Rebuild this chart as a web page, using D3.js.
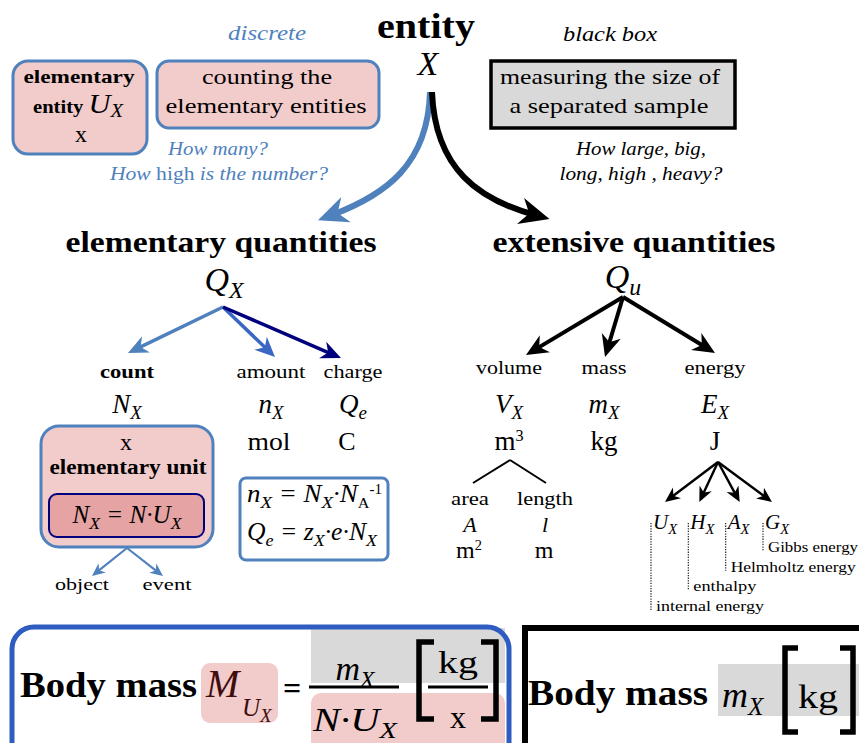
<!DOCTYPE html>
<html>
<head>
<meta charset="utf-8">
<script src="https://cdn.jsdelivr.net/npm/d3@7"></script>
<style>
  body { margin: 0; background: #fff; }
  svg { display: block; }
  text { font-family: "Liberation Serif", "Times New Roman", serif; white-space: pre; }
</style>
</head>
<body>
<script>
//Texts of the diagram
const topic = "entity";
const topicSymbol = "X";
const sideNotes = ["discrete", "black box"];
const countBox = ["counting the", "elementary entities"];
const measureBox = ["measuring the size of", "a separated sample"];
const countQuestions = ["How many?", "How high is the number?"];
const measureQuestions = ["How large, big,", "long, high , heavy?"];
const branches = ["elementary quantities", "extensive quantities"];

//Left branch: elementary quantities
const elemNames = ["count", "amount", "charge"];
const elemSymbols = [["N", "X"], ["n", "X"], ["Q", "e"]];
const elemUnits = ["x", "mol", "C"];
const unitKinds = ["object", "event"];

//Right branch: extensive quantities
const extNames = ["volume", "mass", "energy"];
const extSymbols = [["V", "X"], ["m", "X"], ["E", "X"]];
const extUnits = [["m", "3"], ["kg", ""], ["J", ""]];
const volNames = ["area", "length"];
const volSymbols = ["A", "l"];
const volUnits = [["m", "2"], ["m", ""]];
const energySymbols = ["U", "H", "A", "G"];
const energyNames = ["internal energy", "enthalpy", "Helmholtz energy", "Gibbs energy"];

//Colours
const blue = "#4f81bd", midBlue = "#3a67c4", navy = "#00007f", deepBlue = "#2f5cc0";
const pink = "#f2cbcb", darkPink = "#e6a3a3", grey = "#d9d9d9";

const width = 859, height = 743;

const svg = d3.select("body").append("svg")
  .attr("width", width)
  .attr("height", height)
  .attr("font-family", "Liberation Serif, serif");
const defs = svg.append("defs");

//Scales for the horizontal placement of the nodes
const xElem = d3.scaleOrdinal().domain(elemNames).range([127, 271, 353]);
const xExt = d3.scaleOrdinal().domain(extNames).range([509, 604, 715]);
const xVol = d3.scaleOrdinal().domain(volNames).range([470, 545]);
const xKind = d3.scaleOrdinal().domain(unitKinds).range([82, 167]);
const xEn = d3.scalePoint().domain(energySymbols).range([653, 765]);
const yEnName = d3.scalePoint().domain(energyNames).range([611, 552]);

//Text with italic / bold / sub / sup parts: [string, kind, fontSize]
function rich(g, x, y, parts, size, opts = {}) {
  const t = g.append("text")
    .attr("x", x).attr("y", y)
    .attr("text-anchor", opts.anchor || "middle")
    .style("font-size", size + "px")
    .style("fill", opts.color || "#000");
  let shift = 0;
  parts.forEach(([str, kind = "", fs]) => {
    if (!str) return;
    const sub = kind.includes("_"), sup = kind.includes("^");
    const want = sub ? size * 0.22 : sup ? -size * 0.32 : 0;
    const ts = t.append("tspan").attr("dy", want - shift).text(str);
    if (fs) ts.style("font-size", fs + "px");
    else if (sub) ts.style("font-size", size * 0.7 + "px");
    else if (sup) ts.style("font-size", size * 0.6 + "px");
    if (kind.includes("i")) ts.style("font-style", "italic");
    if (kind.includes("b")) ts.style("font-weight", "bold");
    shift = want;
  });
  if (opts.w) t.attr("textLength", opts.w).attr("lengthAdjust", "spacingAndGlyphs");
  return t;
}

//Arrow heads, one marker per colour and size
function marker(color, size) {
  const id = "m" + color.slice(1) + size;
  if (defs.select("#" + id).empty()) {
    defs.append("marker")
      .attr("id", id)
      .attr("viewBox", "0 0 10 10")
      .attr("refX", 5).attr("refY", 5)
      .attr("markerUnits", "userSpaceOnUse")
      .attr("markerWidth", size).attr("markerHeight", size)
      .attr("orient", "auto")
      .append("path")
        .attr("d", "M0,0.5 L10,5 L0,9.5 L3,5 Z")
        .attr("fill", color);
  }
  return `url(#${id})`;
}

//Straight arrow that ends with its tip at (x2, y2)
function arrow(g, x1, y1, x2, y2, color, sw, size) {
  const len = Math.hypot(x2 - x1, y2 - y1);
  const k = (len - size * 0.5) / len;
  g.append("line")
    .attr("x1", x1).attr("y1", y1)
    .attr("x2", x1 + (x2 - x1) * k).attr("y2", y1 + (y2 - y1) * k)
    .attr("stroke", color).attr("stroke-width", sw)
    .attr("marker-end", marker(color, size));
}

const g = svg.append("g");

//==== top part ====
rich(g, 426, 38, [[topic, "b"]], 35, { w: 98 });
rich(g, 428, 75, [[topicSymbol, "i"]], 34);
rich(g, 267, 40, [[sideNotes[0], "i"]], 22, { color: blue, w: 78 });
rich(g, 610, 41, [[sideNotes[1], "i"]], 22, { w: 94 });

//boxes
g.append("rect").attr("x", 13).attr("y", 61).attr("width", 134).attr("height", 93)
  .attr("rx", 15).attr("fill", pink).attr("stroke", blue).attr("stroke-width", 3);
rich(g, 79, 83, [["elementary", "b"]], 19, { w: 111 });
rich(g, 78, 113, [["entity ", "b", 19], ["U", "i", 28], ["X", "i_", 19]], 19, { w: 90 });
rich(g, 81, 142, [["x"]], 24);

g.append("rect").attr("x", 157).attr("y", 61).attr("width", 222).attr("height", 67)
  .attr("rx", 12).attr("fill", pink).attr("stroke", blue).attr("stroke-width", 3);
rich(g, 267, 84, [[countBox[0]]], 22, { w: 130 });
rich(g, 266, 113, [[countBox[1]]], 22, { w: 201 });

g.append("rect").attr("x", 491).attr("y", 61).attr("width", 244).attr("height", 67)
  .attr("fill", grey).attr("stroke", "#000").attr("stroke-width", 3.5);
rich(g, 610, 84, [[measureBox[0]]], 22, { w: 220 });
rich(g, 609, 113, [[measureBox[1]]], 22, { w: 199 });

rich(g, 218, 155, [[countQuestions[0], "i"]], 19, { color: blue, w: 100 });
rich(g, 219, 180, [["How ", "i"], ["high"], [countQuestions[1].slice(8), "i"]], 19, { color: blue, w: 218 });
rich(g, 641, 155, [[measureQuestions[0], "i"]], 19, { w: 130 });
rich(g, 641, 180, [[measureQuestions[1], "i"]], 19, { w: 163 });

//curved arrows from the entity
g.append("path").attr("d", "M430,92 C428,165 385,195 332,215")
  .attr("fill", "none").attr("stroke", blue).attr("stroke-width", 6)
  .attr("marker-end", marker(blue, 30));
g.append("path").attr("d", "M432,92 C435,170 480,200 535,215")
  .attr("fill", "none").attr("stroke", "#000").attr("stroke-width", 6)
  .attr("marker-end", marker("#000", 30));

//branch titles
rich(g, 221, 252, [[branches[0], "b"]], 29, { w: 311 });
rich(g, 634, 252, [[branches[1], "b"]], 29, { w: 283 });
rich(g, 224, 291, [["Q", "i"], ["X", "i_"]], 34);
rich(g, 623, 288, [["Q", "i"], ["u", "i_"]], 34);

//==== left tree ====
const elemColors = d3.scaleOrdinal().domain(elemNames).range([blue, midBlue, navy]);
const elemTips = d3.scaleOrdinal().domain(elemNames).range([128, 275, 341]);
const elemTipY = d3.scaleOrdinal().domain(elemNames).range([353, 357, 358]);
elemNames.forEach(n => arrow(g, 223, 307, elemTips(n), elemTipY(n), elemColors(n), 3.5, 20));

elemNames.forEach((n, i) => {
  rich(g, xElem(n), 378, [[n, i === 0 ? "b" : ""]], 19, { w: [54, 69, 59][i] });
  rich(g, xElem(n), 413, [[elemSymbols[i][0], "i"], [elemSymbols[i][1], "i_"]], 27);
});

//elementary unit box
g.append("rect").attr("x", 41).attr("y", 426).attr("width", 172).attr("height", 121)
  .attr("rx", 18).attr("fill", pink).attr("stroke", blue).attr("stroke-width", 3);
rich(g, 126, 450, [[elemUnits[0]]], 24);
rich(g, 128, 474, [["elementary unit", "b"]], 20, { w: 157 });
g.append("rect").attr("x", 49).attr("y", 494).attr("width", 155).attr("height", 43)
  .attr("rx", 8).attr("fill", darkPink).attr("stroke", navy).attr("stroke-width", 2);
rich(g, 127, 523, [["N", "i"], ["X", "i_"], [" = N·U", "i"], ["X", "i_"]], 25, { w: 109 });
rich(g, xElem(elemNames[1]) - 2, 450, [[elemUnits[1]]], 26, { w: 43 });
rich(g, xElem(elemNames[2]) - 6, 450, [[elemUnits[2]]], 26);

//object / event
unitKinds.forEach((k, i) => {
  arrow(g, 127, 548, xKind(k) + (i ? -4 : 10), 576, blue, 2.2, 13);
  rich(g, xKind(k), 590, [[k]], 17, { w: [54, 49][i] });
});

//formula box
g.append("rect").attr("x", 240).attr("y", 478).attr("width", 148).attr("height", 82)
  .attr("rx", 6).attr("fill", "#fff").attr("stroke", blue).attr("stroke-width", 3);
rich(g, 247, 502, [["n", "i"], ["X", "i_"], [" = N", "i"], ["X", "i_"], ["·N", "i"], ["A", "_", 15], ["-1", "^", 14]], 25, { anchor: "start", w: 135 });
rich(g, 247, 540, [["Q", "i"], ["e", "i_"], [" = z", "i"], ["X", "i_"], ["·e·N", "i"], ["X", "i_"]], 25, { anchor: "start", w: 130 });

//==== right tree ====
const extTips = d3.scaleOrdinal().domain(extNames).range([526, 605, 715]);
const extTipY = d3.scaleOrdinal().domain(extNames).range([355, 357, 353]);
extNames.forEach(n => arrow(g, 623, 297, extTips(n), extTipY(n), "#000", 4, 22));

extNames.forEach((n, i) => {
  rich(g, xExt(n), 374, [[n]], 19, { w: [66, 45, 61][i] });
  rich(g, xExt(n), 413, [[extSymbols[i][0], "i"], [extSymbols[i][1], "i_"]], 27);
  rich(g, xExt(n), 450, [[extUnits[i][0]], [extUnits[i][1], "^"]], 27);
});

//volume split
volNames.forEach((n, i) => {
  g.append("line").attr("x1", 510).attr("y1", 460).attr("x2", xVol(n) + (i ? 1 : 3)).attr("y2", 483)
    .attr("stroke", "#000").attr("stroke-width", 2);
  rich(g, xVol(n), 505, [[n]], 19, { w: [38, 56][i] });
  rich(g, xVol(n), 532, [[volSymbols[i], "i"]], 22);
  rich(g, xVol(n) - 1, 558, [[volUnits[i][0]], [volUnits[i][1], "^"]], 24);
});

//energy forms
energySymbols.forEach((s, i) => {
  const x = xEn(s);
  arrow(g, 718, 462, x + [12, 9, 12, 7][i], 502, "#000", 2.4, 15);
  rich(g, x, 529, [[s, "i"], ["X", "i_"]], 21, { anchor: "start" });
  const yName = yEnName(energyNames[i]);
  g.append("line").attr("x1", x - 2).attr("y1", 523).attr("x2", x - 2).attr("y2", yName - 1)
    .attr("stroke", "#222").attr("stroke-width", 1.2).attr("stroke-dasharray", "1.3,1.3");
  rich(g, x + 3, yName, [[energyNames[i]]], 15, { anchor: "start", w: [108, 63, 125, 90][i] });
});

//==== bottom formulas ====
//left: body mass as mass divided by number of elementary units
g.append("rect").attr("x", 311).attr("y", 628).attr("width", 194).attr("height", 55).attr("fill", grey);
g.append("rect").attr("x", 311).attr("y", 693).attr("width", 194).attr("height", 80).attr("rx", 10).attr("fill", pink);
g.append("rect").attr("x", 201).attr("y", 663).attr("width", 77).attr("height", 60).attr("rx", 9).attr("fill", pink);
g.append("rect").attr("x", 12).attr("y", 627).attr("width", 497).attr("height", 150)
  .attr("rx", 22).attr("fill", "none").attr("stroke", deepBlue).attr("stroke-width", 5);

rich(g, 20, 697, [["Body mass", "b"]], 35, { anchor: "start", w: 177 });
rich(g, 206, 697, [["M", "i"]], 40, { anchor: "start", color: "#3f0d0d" });
rich(g, 242, 716, [["U", "i"]], 25, { anchor: "start", color: "#3f0d0d" });
rich(g, 260, 722, [["X", "i"]], 19, { anchor: "start", color: "#3f0d0d" });
rich(g, 292, 699, [["=", "b"]], 32);
g.append("line").attr("x1", 309).attr("x2", 399).attr("y1", 687).attr("y2", 687)
  .attr("stroke", "#000").attr("stroke-width", 3);
rich(g, 355, 680, [["m", "i"], ["X", "i_"]], 34);
rich(g, 355, 731, [["N·U", "i"], ["X", "i_"]], 34, { w: 84 });
g.append("path").attr("d", "M434,642 H419 V719 H434 M481,642 H496 V719 H481")
  .attr("fill", "none").attr("stroke", "#000").attr("stroke-width", 5.5);
g.append("line").attr("x1", 428).attr("x2", 488).attr("y1", 687).attr("y2", 687)
  .attr("stroke", "#000").attr("stroke-width", 3);
rich(g, 458, 673, [["kg"]], 32, { w: 40 });
rich(g, 458, 728, [["x"]], 32);

//right: body mass as measured mass
g.append("rect").attr("x", 718).attr("y", 664).attr("width", 141).attr("height", 52).attr("fill", grey);
g.append("rect").attr("x", 525).attr("y", 628).attr("width", 400).attr("height", 150)
  .attr("fill", "none").attr("stroke", "#000").attr("stroke-width", 6);
rich(g, 528, 705, [["Body mass", "b"]], 35, { anchor: "start", w: 180 });
rich(g, 722, 707, [["m", "i"], ["X", "i_"]], 36, { anchor: "start" });
g.append("path").attr("d", "M798,648 H785 V732 H798 M840,648 H853 V732 H840")
  .attr("fill", "none").attr("stroke", "#000").attr("stroke-width", 5.5);
rich(g, 818, 708, [["kg"]], 34, { w: 40 });
</script>
</body>
</html>
